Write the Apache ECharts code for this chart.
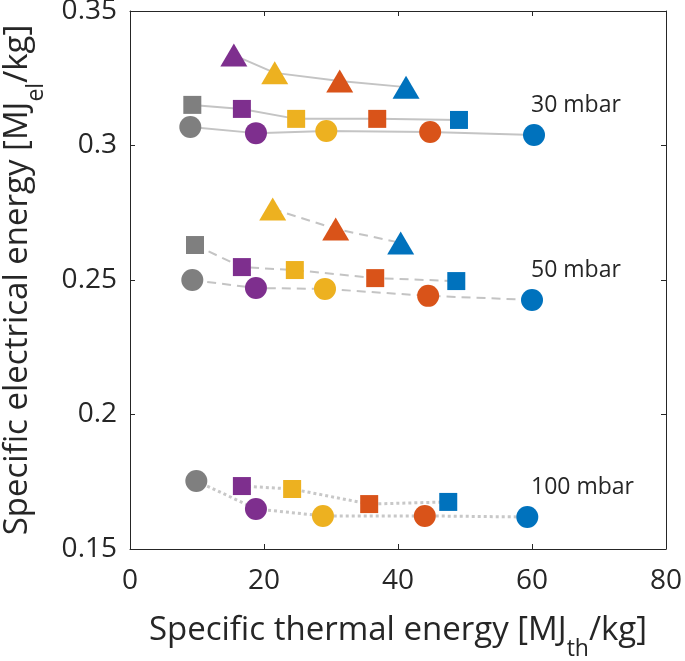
<!DOCTYPE html>
<html><head><meta charset="utf-8">
<script src="https://cdn.jsdelivr.net/npm/echarts@6/dist/echarts.min.js"></script>
<style>html,body{margin:0;padding:0;background:#fff}#c{width:685px;height:661px}</style>
</head><body><div id="c"></div>
<script>
// Axis ticks
const xTicks = [0, 20, 40, 60, 80];
const yTicks = [0.15, 0.2, 0.25, 0.3, 0.35];

// 30 mbar
const tri30X = [15.5, 21.6, 31.3, 41.2];
const tri30Y = [0.3336, 0.3270, 0.3240, 0.3217];
const tri30C = ['purple', 'yellow', 'orange', 'blue'];
const sq30X = [9.3, 16.7, 24.8, 36.9, 49.1];
const sq30Y = [0.3151, 0.3136, 0.3099, 0.3099, 0.3095];
const sq30C = ['grey', 'purple', 'yellow', 'orange', 'blue'];
const ci30X = [9.0, 18.8, 29.3, 44.8, 60.3];
const ci30Y = [0.3069, 0.3046, 0.3054, 0.3050, 0.3039];
const ci30C = ['grey', 'purple', 'yellow', 'orange', 'blue'];

// 50 mbar
const tri50X = [21.3, 30.7, 40.4];
const tri50Y = [0.2764, 0.2690, 0.2638];
const tri50C = ['yellow', 'orange', 'blue'];
const sq50X = [9.7, 16.7, 24.6, 36.6, 48.7];
const sq50Y = [0.2630, 0.2548, 0.2537, 0.2507, 0.2496];
const sq50C = ['grey', 'purple', 'yellow', 'orange', 'blue'];
const ci50X = [9.3, 18.8, 29.1, 44.5, 60.0];
const ci50Y = [0.2500, 0.2470, 0.2467, 0.2441, 0.2426];
const ci50C = ['grey', 'purple', 'yellow', 'orange', 'blue'];

// 100 mbar
const ci100X = [9.9, 18.8, 28.8, 44.0, 59.3];
const ci100Y = [0.1753, 0.1649, 0.1623, 0.1623, 0.1619];
const ci100C = ['grey', 'purple', 'yellow', 'orange', 'blue'];
const sq100X = [16.7, 24.2, 35.7, 47.5];
const sq100Y = [0.1734, 0.1723, 0.1667, 0.1675];
const sq100C = ['purple', 'yellow', 'orange', 'blue'];

// Pressure annotations
const pressureLabels = ['30 mbar', '50 mbar', '100 mbar'];
const pressureLabelX = [59.85, 59.85, 59.85];
const pressureLabelY = [0.3149, 0.2537, 0.1727];

const palette = {grey: '#7F7F7F', purple: '#7E2F8E', yellow: '#EDB120', orange: '#D95319', blue: '#0072BD'};
const FONT = 'Open Sans';
const TXT = '#262626';

const groups = [
  {x: tri30X, y: tri30Y, c: tri30C, shape: 'triangle', dash: 'solid'},
  {x: sq30X, y: sq30Y, c: sq30C, shape: 'rect', dash: 'solid'},
  {x: ci30X, y: ci30Y, c: ci30C, shape: 'circle', dash: 'solid'},
  {x: tri50X, y: tri50Y, c: tri50C, shape: 'triangle', dash: 'dashed'},
  {x: sq50X, y: sq50Y, c: sq50C, shape: 'rect', dash: 'dashed'},
  {x: ci50X, y: ci50Y, c: ci50C, shape: 'circle', dash: 'dashed'},
  {x: ci100X, y: ci100Y, c: ci100C, shape: 'circle', dash: 'dotted'},
  {x: sq100X, y: sq100Y, c: sq100C, shape: 'rect', dash: 'dotted'}
];
const sizes = {triangle: [27, 23], rect: 18, circle: 22};
const dashStyles = {
  solid: {type: 'solid', width: 2, color: '#C4C4C4'},
  dashed: {type: [9, 6], width: 2, color: '#C4C4C4'},
  dotted: {type: [3, 3], width: 3, color: '#C8C8C8'}
};

const series = [];
groups.forEach(g => {
  series.push({
    type: 'line', xAxisIndex: 0, yAxisIndex: 0, z: 1, silent: true, animation: false,
    symbol: 'none', lineStyle: dashStyles[g.dash],
    data: g.x.map((v, i) => [v, g.y[i]])
  });
});
groups.forEach(g => {
  series.push({
    type: 'scatter', xAxisIndex: 0, yAxisIndex: 0, z: 3, silent: true, animation: false,
    symbol: g.shape, symbolSize: sizes[g.shape], itemStyle: {opacity: 1},
    data: g.x.map((v, i) => ({value: [v, g.y[i]], itemStyle: {color: palette[g.c[i]], opacity: 1}}))
  });
});
series.push({
  type: 'scatter', xAxisIndex: 0, yAxisIndex: 0, z: 4, silent: true, animation: false,
  symbolSize: 0, itemStyle: {color: 'transparent', opacity: 1},
  label: {show: true, position: 'right', distance: 0, formatter: p => p.name, opacity: 1,
    fontFamily: FONT, fontSize: 23, color: TXT},
  data: pressureLabels.map((t, i) => ({name: t, value: [pressureLabelX[i], pressureLabelY[i]]}))
});

const axisLineStyle = {color: '#262626', width: 1};
const subRich = {s: {fontFamily: FONT, fontSize: 23, color: TXT, lineHeight: 18, verticalAlign: 'bottom'}};
const chart = echarts.init(document.getElementById('c'), null, {renderer: 'canvas'});
chart.setOption({
  backgroundColor: '#ffffff',
  animation: false,
  grid: {left: 130, right: 19, top: 11, bottom: 112, containLabel: false, outerBoundsMode: 'none'},
  xAxis: [
    {type: 'value', position: 'bottom', min: xTicks[0], max: xTicks[xTicks.length - 1], interval: xTicks[1] - xTicks[0],
     axisLine: {show: true, onZero: false, lineStyle: axisLineStyle}, axisTick: {show: true, inside: true, length: 5, lineStyle: axisLineStyle},
     splitLine: {show: false},
     axisLabel: {show: true, margin: 18, fontFamily: FONT, fontSize: 28, color: TXT, showMinLabel: true, showMaxLabel: true},
     name: 'Specific thermal energy [MJ{s|th}/kg]', nameLocation: 'middle', nameGap: 49,
     nameTextStyle: {fontFamily: FONT, fontSize: 33, color: TXT, lineHeight: 61, rich: subRich}},
    {type: 'value', position: 'top', min: xTicks[0], max: xTicks[xTicks.length - 1], interval: xTicks[1] - xTicks[0],
     axisLine: {show: true, onZero: false, lineStyle: axisLineStyle}, axisTick: {show: true, inside: true, length: 5, lineStyle: axisLineStyle},
     splitLine: {show: false}, axisLabel: {show: false}}
  ],
  yAxis: [
    {type: 'value', position: 'left', min: yTicks[0], max: yTicks[yTicks.length - 1], interval: 0.05,
     axisLine: {show: true, onZero: false, lineStyle: axisLineStyle}, axisTick: {show: true, inside: true, length: 5, lineStyle: axisLineStyle},
     splitLine: {show: false},
     axisLabel: {show: true, margin: 13, fontFamily: FONT, fontSize: 28, color: TXT, showMinLabel: true, showMaxLabel: true,
       padding: [8, 0, 0, 0], formatter: v => String(+v.toFixed(2))},
     name: 'Specific electrical energy [MJ{s|el}/kg]', nameLocation: 'middle', nameGap: 82,
     nameTextStyle: {fontFamily: FONT, fontSize: 33, color: TXT, lineHeight: 61, rich: subRich}},
    {type: 'value', position: 'right', min: yTicks[0], max: yTicks[yTicks.length - 1], interval: 0.05,
     axisLine: {show: true, onZero: false, lineStyle: axisLineStyle}, axisTick: {show: true, inside: true, length: 5, lineStyle: axisLineStyle},
     splitLine: {show: false}, axisLabel: {show: false}}
  ],
  series: series
});
</script>
</body></html>
